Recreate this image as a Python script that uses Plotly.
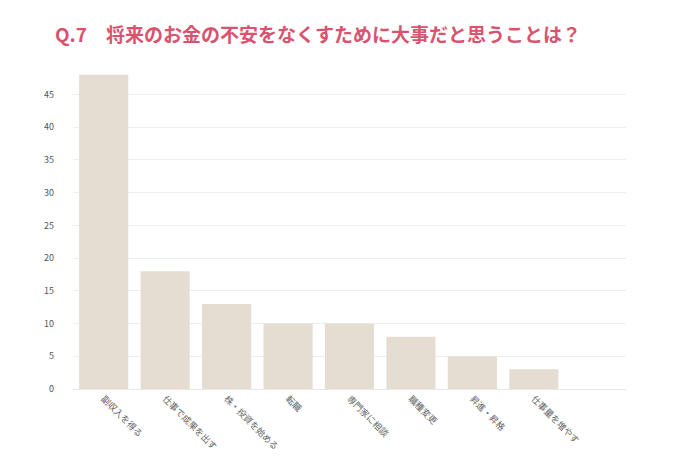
import plotly.graph_objects as go

categories = ["副収入を得る", "仕事で成果を出す", "株・投資を始める", "転職", "専門家に相談",
              "職種変更", "昇進・昇格", "仕事量を増やす", " "]
values = [48, 18, 13, 10, 10, 8, 5, 3, 0]
tick_vals = [0, 5, 10, 15, 20, 25, 30, 35, 40, 45]

fig = go.Figure()
fig.add_trace(go.Bar(
    x=categories,
    y=values,
    marker=dict(color="#e6ddd2", line=dict(width=0)),
    width=0.8,
))

fig.update_layout(
    width=690, height=460,
    margin=dict(l=65, r=72, t=57, b=79),
    plot_bgcolor="white",
    paper_bgcolor="white",
    showlegend=False,
    font=dict(family="Noto Sans CJK JP", color="#666666", size=9),
    title=dict(
        text="<b>Q.7　将来のお金の不安をなくすために大事だと思うことは？</b>",
        x=0.068, xanchor="left", y=0.94, yanchor="middle",
        font=dict(size=19, color="#d9536f", family="Noto Sans CJK JP"),
    ),
)
fig.update_xaxes(tickangle=45, showgrid=False, showline=True, linecolor="#e8e8e8",
                 tickfont=dict(size=9, color="#666666"))
fig.update_yaxes(range=[0, 49.5], tickvals=tick_vals, gridcolor="#eeeeee",
                 zeroline=False, tickfont=dict(size=9, color="#555555"), ticklabelstandoff=18)

fig.write_html("out.html")
